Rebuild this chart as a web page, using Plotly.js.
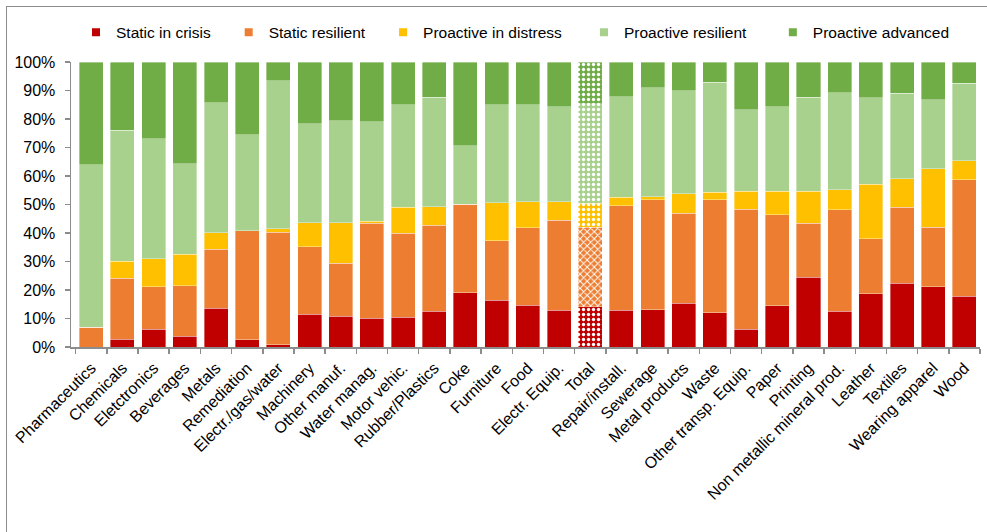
<!DOCTYPE html>
<html>
<head>
<meta charset="utf-8">
<script src="https://cdn.plot.ly/plotly-3.0.1.min.js"></script>
<style>
  html, body { margin: 0; padding: 0; background: #fff; overflow: hidden; }
  #frame { position: absolute; left: 6px; top: 6px; width: 2000px; height: 2000px;
           border-left: 1.5px solid #8c8c8c; border-top: 1.5px solid #8c8c8c; pointer-events: none; }
  #chart { position: absolute; left: 0; top: 0; width: 987px; height: 532px; }
</style>
</head>
<body>
<div id="chart"></div>
<div id="frame"></div>
<script>
// Sectors (the aggregate "Total" bar sits in the middle of the ranking)
const categories = [
  "Pharmaceutics", "Chemicals", "Eletctronics", "Beverages", "Metals", "Remediation",
  "Electr./gas/water", "Machinery", "Other manuf.", "Water manag.", "Motor vehic.",
  "Rubber/Plastics", "Coke", "Furniture", "Food", "Electr. Equip.", "Total",
  "Repair/install.", "Sewerage", "Metal products", "Waste", "Other transp. Equip.",
  "Paper", "Printing", "Non metallic mineral prod.", "Leather", "Textiles",
  "Wearing apparel", "Wood"
];

// Share of firms in each group (%)
const staticInCrisis = [
  0, 2.7, 6.2, 3.7, 13.6, 2.5, 0.8, 11.5, 10.8, 10.1, 10.5, 12.5, 19.1, 16.4, 14.6,
  12.9, 14.2, 12.9, 13.1, 15.4, 12.0, 6.2, 14.4, 24.4, 12.5, 18.7, 22.3, 21.1, 17.8
];
const staticResilient = [
  7.0, 21.4, 15.0, 17.8, 20.7, 38.3, 39.4, 23.7, 18.6, 33.3, 29.4, 30.2, 31.0, 20.9, 27.2,
  31.5, 27.8, 36.6, 38.5, 31.6, 39.6, 42.2, 32.0, 19.1, 35.6, 19.2, 26.8, 20.9, 40.8
];
const proactiveInDistress = [
  0, 6.0, 9.8, 11.0, 5.8, 0, 1.3, 8.4, 14.2, 0.8, 9.2, 6.5, 0, 13.3, 9.1,
  6.5, 8.4, 3.0, 1.1, 6.8, 2.7, 6.3, 8.3, 11.2, 7.0, 19.2, 10.0, 20.6, 6.8
];
const proactiveResilient = [
  57.0, 46.0, 42.1, 31.8, 45.6, 33.6, 52.0, 34.8, 35.8, 34.9, 35.9, 38.5, 20.5, 34.4, 34.1,
  33.4, 35.0, 35.3, 38.3, 36.1, 38.6, 28.6, 29.6, 32.9, 34.1, 30.4, 29.9, 24.2, 27.1
];
const proactiveAdvanced = [
  36.0, 23.9, 26.9, 35.7, 14.3, 25.6, 6.5, 21.6, 20.6, 20.9, 15.0, 12.3, 29.4, 15.0, 15.0,
  15.7, 14.6, 12.2, 9.0, 10.1, 7.1, 16.7, 15.7, 12.4, 10.8, 12.5, 11.0, 13.2, 7.5
];

const seriesNames = ["Static in crisis", "Static resilient", "Proactive in distress",
                     "Proactive resilient", "Proactive advanced"];
const seriesValues = [staticInCrisis, staticResilient, proactiveInDistress,
                      proactiveResilient, proactiveAdvanced];
const seriesColors = ["#C00000", "#ED7D31", "#FFC000", "#A9D18E", "#70AD47"];
const totalShapes = [".", "x", ".", ".", "."];
// extra blank room after each legend label so the row spreads out
const legendPad = [3, 3, 4, 5, 0];

const tickFont = { family: "Liberation Sans, Arial, sans-serif", size: 16, color: "#000" };
const legendFont = { family: "Liberation Sans, Arial, sans-serif", size: 15.5, color: "#000" };

const traces = [];
seriesValues.forEach((vals, k) => {
  traces.push({
    type: "bar",
    x: categories,
    y: vals,
    name: seriesNames[k],
    showlegend: false,
    hoverinfo: "x+y+name",
    marker: {
      color: seriesColors[k],
      line: { color: "rgba(255,255,255,0.45)", width: 0.8 },
      pattern: {
        shape: categories.map(c => c === "Total" ? totalShapes[k] : ""),
        fillmode: "overlay",
        fgcolor: "#ffffff",
        fgopacity: 1,
        size: 5,
        solidity: 0.35
      }
    }
  });
});

// Small square swatches for the legend row
seriesNames.forEach((nm, k) => {
  traces.push({
    type: "scatter",
    mode: "markers",
    x: [null], y: [null],
    name: nm + "\u00A0".repeat(legendPad[k]),
    marker: { symbol: "square", size: 8, color: seriesColors[k] },
    hoverinfo: "skip"
  });
});

const layout = {
  width: 987,
  height: 532,
  margin: { l: 70.7, r: 6.8, t: 62.3, b: 184.7, pad: 0 },
  paper_bgcolor: "rgba(0,0,0,0)",
  plot_bgcolor: "#fff",
  barmode: "stack",
  bargap: 0.23,
  font: tickFont,
  showlegend: true,
  legend: {
    orientation: "h",
    traceorder: "normal",
    x: 0.0055, xanchor: "left",
    y: 1.103, yanchor: "middle",
    font: legendFont,
    itemwidth: 30,
    bgcolor: "rgba(0,0,0,0)"
  },
  xaxis: {
    type: "category",
    range: [-0.65, 28.5],
    tickson: "boundaries",
    ticks: "outside",
    ticklen: 5,
    tickwidth: 1.5,
    tickcolor: "#8c8c8c",
    tickangle: -45,
    ticklabelstandoff: 4,
    showline: true,
    linecolor: "#8c8c8c",
    linewidth: 1.5,
    showgrid: false,
    zeroline: false,
    tickfont: tickFont,
    fixedrange: true
  },
  yaxis: {
    range: [0, 100],
    dtick: 10,
    ticksuffix: "%",
    ticks: "outside",
    ticklen: 5,
    tickwidth: 1.5,
    tickcolor: "#8c8c8c",
    ticklabelstandoff: 6,
    showline: true,
    linecolor: "#8c8c8c",
    linewidth: 1.5,
    showgrid: false,
    zeroline: false,
    tickfont: tickFont,
    fixedrange: true
  }
};

Plotly.newPlot("chart", traces, layout, { displayModeBar: false, staticPlot: true });
</script>
</body>
</html>
